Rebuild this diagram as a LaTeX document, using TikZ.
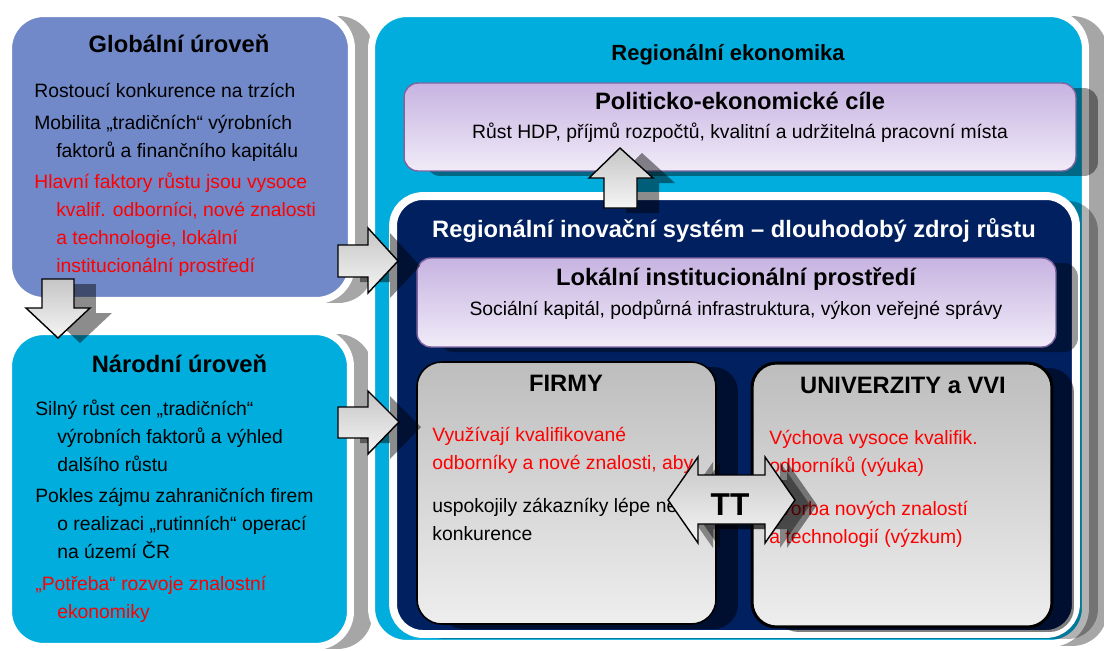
\documentclass[tikz,border=0pt]{standalone}
\usepackage{fontspec}
\setmainfont{Liberation Sans}
\usetikzlibrary{shadows}

\definecolor{globblue}{HTML}{7189C8}
\definecolor{natcyan}{HTML}{00ADDC}
\definecolor{risnavy}{HTML}{002060}
\definecolor{lilatop}{HTML}{C7B3E1}
\definecolor{lilabot}{HTML}{F0EBF8}
\definecolor{lilaline}{HTML}{8064A2}
\definecolor{boxtop}{HTML}{BDBDBD}
\definecolor{boxbot}{HTML}{EEEEEE}
\definecolor{extrude}{HTML}{A6A6A6}

\tikzset{
  levelbox/.style={rectangle, rounded corners=20pt, draw=white, line width=4pt, inner sep=0pt,
    drop shadow={shadow xshift=0.44cm, shadow yshift=-0.05cm, fill=extrude, opacity=1}},
  risbox/.style={rectangle, rounded corners=17pt, draw=white, line width=4.5pt, fill=risnavy, inner sep=0pt,
    drop shadow={shadow xshift=0.44cm, shadow yshift=-0.1cm, fill=black, opacity=0.3}},
  goalbox/.style={rectangle, rounded corners=8pt, draw=lilaline, line width=0.8pt,
    top color=lilatop, bottom color=lilabot, inner sep=0pt,
    drop shadow={shadow xshift=0.44cm, shadow yshift=-0.1cm, fill=black, opacity=0.4}},
  actorbox/.style={rectangle, rounded corners=14pt, draw=black, line width=0.9pt,
    top color=boxtop, bottom color=boxbot, inner sep=0pt,
    drop shadow={shadow xshift=0.44cm, shadow yshift=-0.1cm, fill=black, opacity=0.5}},
  blockarrow/.style={draw=black, line width=0.8pt, top color=gray!45, bottom color=gray!8,
    drop shadow={shadow xshift=0.44cm, shadow yshift=-0.1cm, fill=black, opacity=0.45}},
  txt/.style={inner sep=0pt, align=left, font=\fontsize{11}{15.9}\selectfont},
  ttl/.style={inner sep=0pt, font=\fontsize{13.5}{16}\selectfont\bfseries},
}

\begin{document}
\begin{tikzpicture}[x=0.02cm, y=-0.02cm]
\useasboundingbox (0,0) rectangle (1104,650);

% levels
\node[levelbox, fill=globblue, minimum width=6.86cm, minimum height=5.74cm] (glob) at (180,157) {};
\node[levelbox, fill=natcyan, minimum width=6.84cm, minimum height=6.3cm] (nat) at (179.5,489) {};
\node[levelbox, fill=natcyan, minimum width=14.28cm, minimum height=12.6cm] (reg) at (728.5,328.5) {};

% goals and innovation system
\node[goalbox, minimum width=13.44cm, minimum height=1.76cm] (goal) at (740,127) {};
\node[risbox, minimum width=13.66cm, minimum height=8.76cm] (ris) at (734.5,415) {};
\node[goalbox, minimum width=12.78cm, minimum height=1.78cm] (loc) at (736.5,302.5) {};
\node[actorbox, minimum width=5.98cm, minimum height=5.24cm] (firm) at (566.5,493) {};
\node[actorbox, line width=1.7pt, minimum width=6cm, minimum height=5.28cm] (uni) at (902,495) {};

% texts, global level (base = last line)
\node[ttl, anchor=base] (globttl) at (179,52) {Globální úroveň};
\node[txt, anchor=base west] (globa) at (34,97) {Rostoucí konkurence na trzích};
\node[txt, anchor=base west] (globb) at (34,157) {Mobilita „tradičních“ výrobních\\\hspace*{12.5pt}faktorů a finančního kapitálu};
\node[txt, anchor=base west, text=red] (globc) at (34,272) {Hlavní faktory růstu jsou vysoce\\\hspace*{12.5pt}kvalif. odborníci, nové znalosti\\\hspace*{12.5pt}a technologie, lokální\\\hspace*{12.5pt}institucionální prostředí};

% texts, national level
\node[ttl, anchor=base] (natttl) at (179.5,372) {Národní úroveň};
\node[txt, anchor=base west] (nata) at (35,471) {Silný růst cen „tradičních“\\\hspace*{12.5pt}výrobních faktorů a výhled\\\hspace*{12.5pt}dalšího růstu};
\node[txt, anchor=base west] (natb) at (35,558) {Pokles zájmu zahraničních firem\\\hspace*{12.5pt}o realizaci „rutinních“ operací\\\hspace*{12.5pt}na území ČR};
\node[txt, anchor=base west, text=red] (natc) at (35,618) {„Potřeba“ rozvoje znalostní\\\hspace*{12.5pt}ekonomiky};

% texts, region
\node[ttl, anchor=base, font=\fontsize{12.5}{15}\selectfont\bfseries] (regttl) at (728,60) {Regionální ekonomika};
\node[ttl, anchor=base] (goalttl) at (740,109) {Politicko-ekonomické cíle};
\node[txt, anchor=base] (goaltxt) at (740,138) {Růst HDP, příjmů rozpočtů, kvalitní a udržitelná pracovní místa};
\node[ttl, anchor=base, text=white] (risttl) at (734,237) {Regionální inovační systém – dlouhodobý zdroj růstu};
\node[ttl, anchor=base] (locttl) at (736,285) {Lokální institucionální prostředí};
\node[txt, anchor=base] (loctxt) at (736,315) {Sociální kapitál, podpůrná infrastruktura, výkon veřejné správy};
\node[ttl, anchor=base] (firmttl) at (566,391) {FIRMY};
\node[txt, anchor=base west, text=red] (firma) at (432,469) {Využívají kvalifikované\\odborníky a nové znalosti, aby};
\node[txt, anchor=base west] (firmb) at (432,540) {uspokojily zákazníky lépe než\\konkurence};
\node[ttl, anchor=base] (unittl) at (903,393) {UNIVERZITY a VVI};
\node[txt, anchor=base west, text=red] (unia) at (769,472) {Výchova vysoce kvalifik.\\odborníků (výuka)};
\node[txt, anchor=base west, text=red] (unib) at (769,543) {Tvorba nových znalostí\\a technologií (výzkum)};

% block arrows
\draw[blockarrow] (42,279) -- (74,279) -- (74,308) -- (90,308) -- (58,338) -- (26,308) -- (42,308) -- cycle;
\draw[blockarrow] (338,245) -- (368,245) -- (368,228) -- (398,261) -- (368,293) -- (368,277) -- (338,277) -- cycle;
\draw[blockarrow] (338,407) -- (368,407) -- (368,391) -- (399,422) -- (368,454) -- (368,438) -- (338,438) -- cycle;
\draw[blockarrow] (604,208) -- (604,178) -- (589,178) -- (620,148) -- (653,178) -- (637,178) -- (637,208) -- cycle;
\draw[blockarrow, drop shadow={shadow xshift=0.3cm, shadow yshift=-0.1cm, fill=black, opacity=0.4}]
  (668,500) -- (698,457) -- (698,475) -- (765,475) -- (765,457) -- (795,500) -- (765,543) -- (765,524) -- (698,524) -- (698,543) -- cycle;
\node[ttl, anchor=base, font=\fontsize{18}{20}\selectfont\bfseries] (tt) at (730,515) {TT};
\end{tikzpicture}
\end{document}
